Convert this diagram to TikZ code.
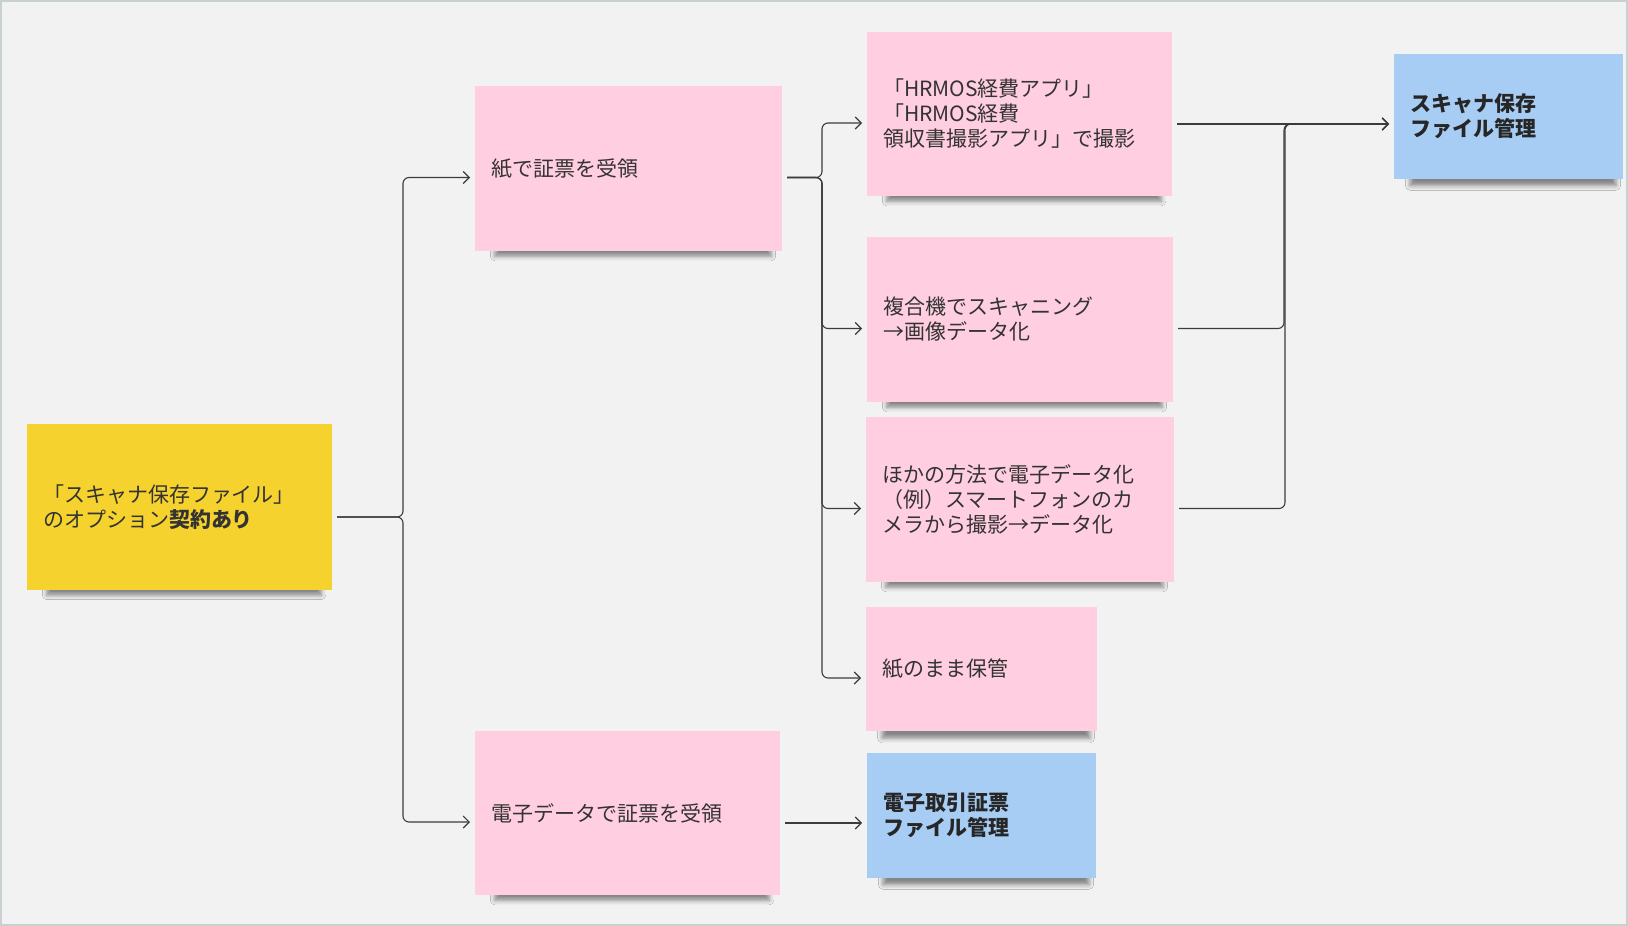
\documentclass[tikz,border=0pt]{standalone}
\usepackage{fontspec}
\setmainfont{Noto Sans CJK JP}
\usepackage{tikz}
\usetikzlibrary{arrows.meta,shadows.blur}
\usepackage{xcolor}

\definecolor{paperbg}{HTML}{F2F2F2}
\definecolor{framecol}{HTML}{C8D1D0}
\definecolor{notepink}{HTML}{FFCEE0}
\definecolor{noteyellow}{HTML}{F5D22E}
\definecolor{noteblue}{HTML}{A8CDF5}
\definecolor{notetext}{HTML}{333333}
\definecolor{linkcol}{HTML}{3C3C3C}

\tikzset{
	note/.style={rectangle, align=left, text width=#1, inner xsep=16pt, inner ysep=0pt, outer sep=5pt,
		text=notetext, font=\fontsize{21}{25}\selectfont,
		blur shadow={shadow xshift=5pt, shadow yshift=-15pt, shadow scale=0.9, shadow opacity=45, shadow blur radius=5pt}},
	link/.style={draw=linkcol, line width=1.1pt, rounded corners=6pt, -{Straight Barb[length=6pt,width=12pt]}}
}

\begin{document}
\begin{tikzpicture}[x=1pt, y=-1pt]
	\useasboundingbox (0,0) rectangle (1628,926);
	\fill [paperbg] (0,0) rectangle (1628,926);
	\draw [framecol, line width=2pt] (1,1) rectangle (1627,925);
	
	\node [note=273pt, minimum height=166pt, fill=noteyellow] (option) at (179.5,507) {「スキャナ保存ファイル」\\のオプション\textbf{契約あり}};
	
	\foreach \id/\x/\y/\w/\h/\txt in {
		paper/628.5/168.5/275/165/{紙で証票を受領},
		edata/627.5/813/273/164/{電子データで証票を受領},
		hrmos/1019.5/114/273/164/{「HRMOS経費アプリ」\\「HRMOS経費\\領収書撮影アプリ」で撮影},
		mfp/1020/319.5/274/165/{複合機でスキャニング\\→画像データ化},
		other/1020/499.5/276/165/{ほかの方法で電子データ化\\（例）スマートフォンのカ\\メラから撮影→データ化},
		keep/981.5/669/199/124/{紙のまま保管}
	}
	{
		\node [note=\w pt, minimum height=\h pt, fill=notepink] (\id) at (\x,\y) {\txt};
	}
	
	\foreach \id/\x/\y/\txt in {
		scanfile/1508.5/116/{スキャナ保存\\ファイル管理},
		efile/981.5/815/{電子取引証票\\ファイル管理}
	}
	{
		\node [note=197pt, minimum height=125pt, fill=noteblue, font=\fontsize{21}{25}\selectfont\bfseries, text=black!85] (\id) at (\x,\y) {\txt};
	}
	
	\foreach \t in {paper,edata}
		\draw [link] ([yshift=-10pt]option.east) -- ++(66,0) |- ([yshift=-9pt]\t.west);
	\foreach \t in {hrmos,mfp,other,keep}
		\draw [link] ([yshift=-9pt]paper.east) -- ++(35,0) |- ([yshift=-9pt]\t.west);
	\draw [link] ([yshift=-10pt]hrmos.east) -- ([yshift=-8pt]scanfile.west);
	\foreach \t in {mfp,other}
		\draw [link] ([yshift=-9pt]\t.east) -- ++(106,0) |- ([yshift=-8pt]scanfile.west);
	\draw [link] ([yshift=-10pt]edata.east) -- ([yshift=-8pt]efile.west);
\end{tikzpicture}
\end{document}
